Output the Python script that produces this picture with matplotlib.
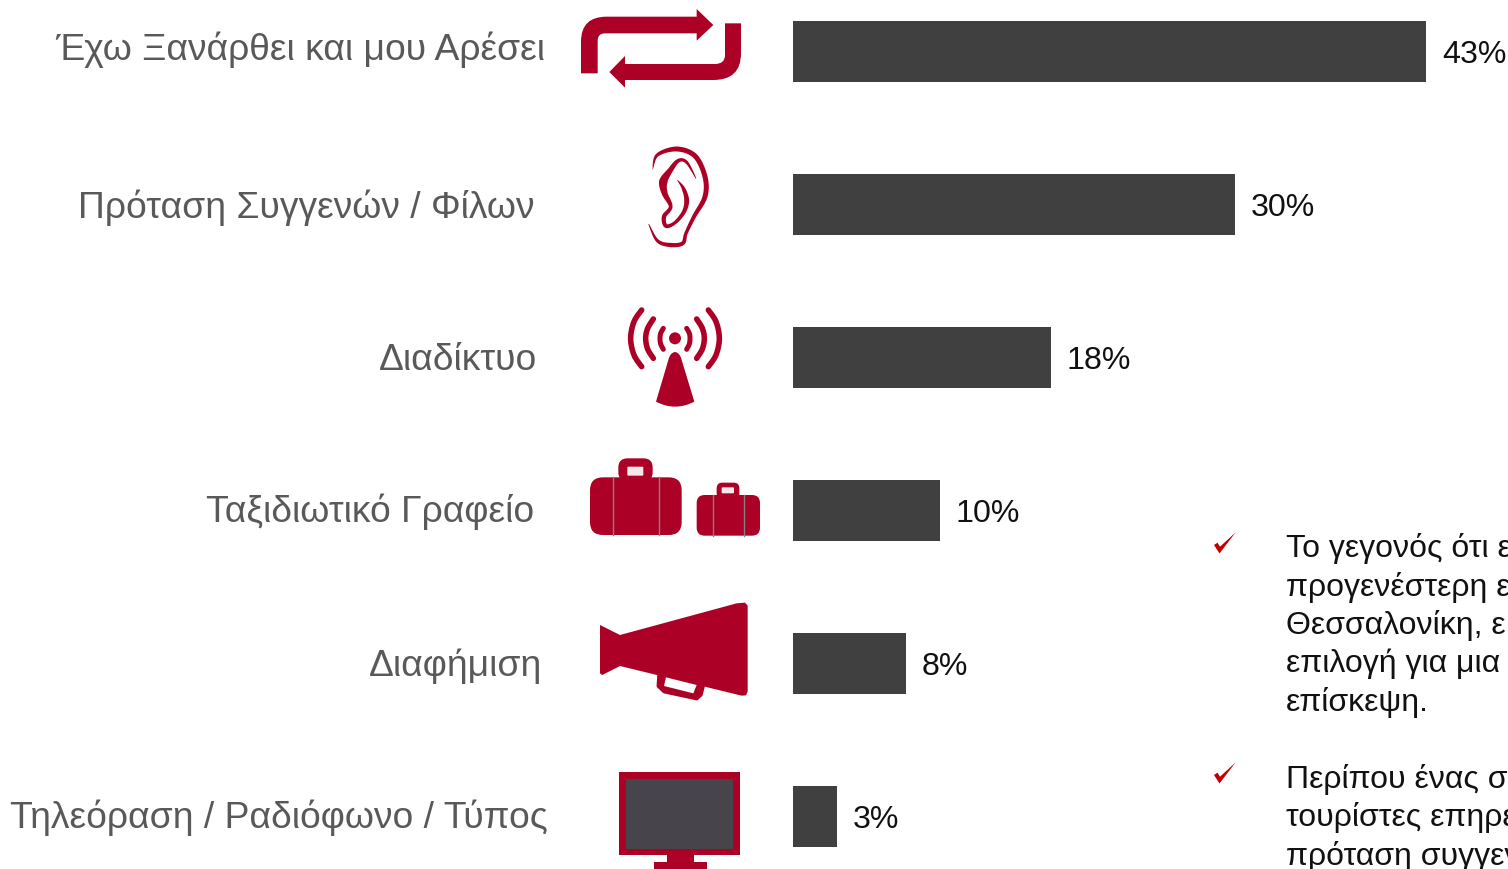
import numpy as np
import matplotlib
matplotlib.use("Agg")
import matplotlib.pyplot as plt
from matplotlib.patches import PathPatch, Polygon, Rectangle, FancyBboxPatch, Circle
from matplotlib.path import Path

plt.rcParams['font.family'] = ['Liberation Sans', 'DejaVu Sans']

categories = ["Έχω Ξανάρθει και μου Αρέσει", "Πρόταση Συγγενών / Φίλων", "Διαδίκτυο",
              "Ταξιδιωτικό Γραφείο", "Διαφήμιση", "Τηλεόραση / Ραδιόφωνο / Τύπος"]
bar_values = [43, 30, 17.55, 10, 7.73, 3]
value_labels = ["43%", "30%", "18%", "10%", "8%", "3%"]
label_right_px = [545, 535, 537, 534, 542, 548]
label_y_px = [46, 204, 356.5, 508, 662, 814]
bullet_lines = ["Το γεγονός ότι ε", "προγενέστερη ε", "Θεσσαλονίκη, ε", "επιλογή για μια",
                "επίσκεψη.", "", "Περίπου ένας σ", "τουρίστες επηρε", "πρόταση συγγεν"]

RED = "#AD0026"
W, H = 1508, 869
fig = plt.figure(figsize=(W / 100, H / 100), dpi=100, facecolor="white")

# Bars
ax = fig.add_axes([792.5 / W, 0, (W - 792.5) / W, 1])
ax.set_xlim(0, (W - 792.5) / 14.74)
ax.set_ylim((H - 51.5) / 153, -51.5 / 153)
ax.axis("off")
ypos = np.arange(len(bar_values))
ax.barh(ypos, bar_values, height=61 / 153, color="#404040", linewidth=0)
for y, v, t in zip(ypos, bar_values, value_labels):
    ax.annotate(t, (v, y), xytext=(11.2, 0), textcoords="offset points", ha="left",
                va="center_baseline", fontsize=23.1, color="#111111", annotation_clip=False)

# Overlay in pixel coordinates for text and pictograms
ov = fig.add_axes([0, 0, 1, 1], zorder=3)
ov.set_xlim(0, W)
ov.set_ylim(H, 0)
ov.axis("off")
ov.patch.set_alpha(0)

for c, x, y in zip(categories, label_right_px, label_y_px):
    ov.text(x, y, c, ha="right", va="center_baseline", fontsize=26.8, color="#595959")

for i, line in enumerate(bullet_lines):
    ov.text(1286, 545.5 + i * 38.4, line, ha="left", va="center_baseline", fontsize=23, color="#111111")


def Z(pts, ox, oy):
    return [(ox + a / 3, oy + b / 3) for a, b in pts]


def filled(verts, codes=None, color=RED, z=4):
    p = Path(verts, codes) if codes else Path(verts + [verts[0]])
    ov.add_patch(PathPatch(p, facecolor=color, edgecolor="none", zorder=z))


def catmull(pts, n=14):
    q = np.vstack([pts[0], pts, pts[-1]])
    out = []
    for i in range(1, len(q) - 2):
        for t in np.linspace(0, 1, n, endpoint=i == len(q) - 3):
            out.append(0.5 * ((2 * q[i]) + (q[i + 1] - q[i - 1]) * t
                              + (2 * q[i - 1] - 5 * q[i] + 4 * q[i + 1] - q[i + 2]) * t ** 2
                              + (3 * q[i] - q[i - 1] - 3 * q[i + 1] + q[i + 2]) * t ** 3))
    return np.array(out)


def tapered(pts, widths, ox=570, oy=0):
    c = catmull(np.array(Z(pts, ox, oy)))
    w = np.interp(np.linspace(0, len(widths) - 1, len(c)), np.arange(len(widths)), widths) / 6
    d = np.gradient(c, axis=0)
    d /= np.maximum(np.hypot(d[:, 0], d[:, 1]), 1e-6)[:, None]
    nrm = np.column_stack([-d[:, 1], d[:, 0]])
    poly = np.vstack([c + nrm * w[:, None], (c - nrm * w[:, None])[::-1]])
    ov.add_patch(Polygon(poly, closed=True, fc=RED, ec="none", zorder=4))


def stroke(pts, lw, ox=570, oy=0):
    c = catmull(np.array(Z(pts, ox, oy)))
    ov.plot(c[:, 0], c[:, 1], color=RED, lw=lw, solid_capstyle="round", zorder=4)


# Repeat arrows
M, L, C3, CP = Path.MOVETO, Path.LINETO, Path.CURVE3, Path.CLOSEPOLY
filled(Z([(33, 220), (33, 125), (33, 50), (110, 50), (380, 50), (380, 27), (430, 75), (380, 122),
          (380, 100), (105, 100), (83, 100), (83, 122), (83, 220), (33, 220)], 570, 0),
       [M, L, C3, C3, L, L, L, L, L, L, C3, C3, L, CP])
filled(Z([(513, 70), (513, 160), (513, 240), (430, 240), (165, 240), (165, 263), (118, 216), (165, 168),
          (165, 192), (435, 192), (465, 192), (465, 165), (465, 70), (513, 70)], 570, 0),
       [M, L, C3, C3, L, L, L, L, L, L, C3, C3, L, CP])

# Ear
tapered([(248, 508), (262, 465), (320, 447), (375, 468), (405, 530), (405, 590), (372, 650),
         (348, 700), (338, 730), (300, 735), (262, 722), (236, 672)],
        [1, 10, 15, 15, 15, 15, 12, 10, 12, 13, 10, 2])
tapered([(378, 535), (350, 487), (325, 482), (300, 512), (280, 545), (284, 580), (302, 620),
         (282, 650), (288, 678), (315, 668), (342, 635), (350, 600), (340, 565), (322, 540)],
        [2, 9, 11, 16, 26, 18, 11, 13, 12, 10, 12, 15, 11, 1])

# Signal tower
ov.add_patch(Circle((570 + 315 / 3, 1015 / 3), 6.0, color=RED, zorder=4, lw=0))
arcs = [([(215, 930), (192, 965), (182, 1015), (192, 1065), (215, 1100)], 4.0),
        ([(250, 957), (233, 985), (227, 1015), (233, 1047), (250, 1075)], 4.0),
        ([(280, 985), (272, 1000), (270, 1015), (272, 1032), (280, 1048)], 3.6)]
for pts, lw in arcs:
    stroke(pts, lw)
    stroke([(630 - a, b) for a, b in pts], lw)
filled(Z([(295, 1080), (300, 1058), (315, 1056), (330, 1058), (335, 1080), (373, 1205),
          (315, 1235), (258, 1205), (295, 1080)], 570, 0),
       [M, C3, C3, C3, C3, L, C3, C3, CP])


# Suitcases
def case(x0, x1, y0, y1, hx0, hx1, hy0, hole, seams, r):
    a = Z([(x0, y0), (x1, y1)], 570, 440)
    b = Z([(hx0, hy0), (hx1, y0 + 12)], 570, 440)
    ho = Z(hole, 570, 440)
    ov.add_patch(FancyBboxPatch(b[0], b[1][0] - b[0][0], b[1][1] - b[0][1],
                                boxstyle=f"round,pad=0,rounding_size={r * 0.7}", fc=RED, ec="none", zorder=4))
    ov.add_patch(FancyBboxPatch(ho[0], ho[1][0] - ho[0][0], ho[1][1] - ho[0][1],
                                boxstyle="round,pad=0,rounding_size=1", fc="#F4E8EA", ec="none", zorder=5))
    ov.add_patch(FancyBboxPatch(a[0], a[1][0] - a[0][0], a[1][1] - a[0][1],
                                boxstyle=f"round,pad=0,rounding_size={r}", fc=RED, ec="none", zorder=4))
    for s in seams:
        sx = 570 + s / 3
        ov.plot([sx, sx], [a[0][1], a[1][1]], color="#8A7F86", lw=1.0, zorder=6)


case(60, 335, 112, 285, 145, 248, 55, [(172, 80), (220, 107)], [130, 268], 13)
case(380, 570, 165, 287, 440, 508, 128, [(455, 142), (492, 160)], [430, 522], 8)

# Megaphone
filled(Z([(90, 555), (150, 585), (500, 490), (525, 488), (533, 497), (533, 755), (528, 766), (515, 767),
          (150, 678), (97, 705), (90, 700)], 570, 440))
ov.add_patch(Polygon(Z([(268, 705), (266, 738), (283, 754), (380, 775), (392, 764), (398, 740)], 570, 440),
                     closed=True, fc=RED, ec=RED, lw=3.0, joinstyle="round", zorder=4))
filled(Z([(288, 712), (380, 735), (370, 760), (282, 738)], 570, 440), color="white", z=5)

# Screen
ov.add_patch(Rectangle(Z([(147, 996)], 570, 440)[0], 363 / 3, 249 / 3, fc=RED, ec="none", zorder=4))
ov.add_patch(Rectangle(Z([(168, 1018)], 570, 440)[0], 322 / 3, 208 / 3, fc="#48444B", ec="none", zorder=5))
ov.add_patch(Rectangle(Z([(290, 1245)], 570, 440)[0], 82 / 3, 20 / 3, fc=RED, ec="none", zorder=4))
ov.add_patch(Rectangle(Z([(253, 1265)], 570, 440)[0], 159 / 3, 22 / 3, fc=RED, ec="none", zorder=4))

# Check marks
for oy in (0, 230):
    filled([(1214, 545 + oy), (1217.5, 542.7 + oy), (1220, 546.7 + oy), (1235.5, 532.5 + oy),
            (1219.5, 553.5 + oy)], color="#C00000")

fig.savefig("out.png", dpi=100, facecolor="white")
